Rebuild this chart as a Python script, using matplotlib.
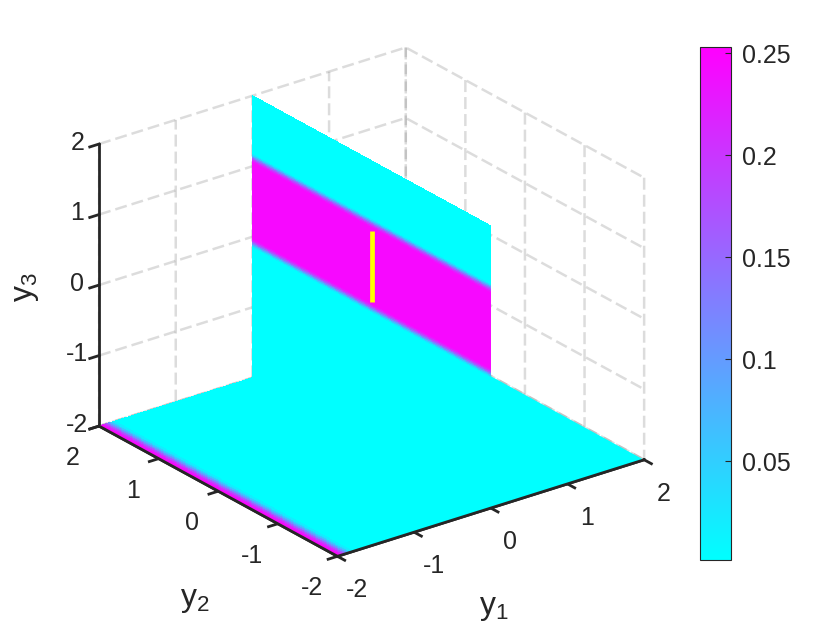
import numpy as np
import matplotlib
matplotlib.use("Agg")
import matplotlib.pyplot as plt
from matplotlib.cm import ScalarMappable
from matplotlib.colors import Normalize

plt.rcParams['font.family'] = ['Liberation Sans', 'DejaVu Sans']
plt.rcParams['axes.unicode_minus'] = False

# values
ticks = [-2, -1, 0, 1, 2]
cbar_ticks = [0.05, 0.1, 0.15, 0.2, 0.25]
cbar_labels = ['0.05', '0.1', '0.15', '0.2', '0.25']
vmin, vmax = 0.0015, 0.253

# wall at y1 = 0, colour only changes with y3
wall_y3 = [-2, -0.14, -0.12, -0.10, -0.08, -0.06, -0.04, -0.02, 0.0, 0.5, 1.05, 1.07, 1.09, 1.11, 1.13, 1.15, 1.17, 1.19, 2]
wall_val = [0.002, 0.02, 0.06, 0.11, 0.16, 0.20, 0.23, 0.245, 0.245, 0.245, 0.245, 0.23, 0.20, 0.16, 0.11, 0.06, 0.02, 0.002]
wall_y2 = [-2, 2]

# floor at y3 = -2, colour only changes with y1
floor_y1 = [-2, -1.96, -1.93, -1.90, -1.87, -1.84, -1.80, 0]
floor_val = [0.25, 0.22, 0.17, 0.11, 0.06, 0.02, 0.002]
floor_y2 = [-2, 2]
floor_back_y1 = [0, 2]
floor_back_val = [0.002]

# yellow line
line_y1 = [0, 0]
line_y2 = [0, 0]
line_y3 = [0, 1]

ink = '#262626'
norm = Normalize(vmin, vmax)
cmap = plt.get_cmap('cool')

fig = plt.figure(figsize=(8.4, 6.3), dpi=100)
ax = fig.add_axes([(363.5 - 300) / 840, (630 - 310 - 300) / 630, 600 / 840, 600 / 630], projection='3d')
ax.set_proj_type('ortho')
ax.view_init(elev=24.5, azim=-127.2)
ax.set_box_aspect((1, 1.024, 0.805), zoom=1.023)
ax.computed_zorder = False
ax.set_xlim(-2, 2, view_margin=0)
ax.set_ylim(-2, 2, view_margin=0)
ax.set_zlim(-2, 2, view_margin=0)

# floor behind the wall
Xb, Yb = np.meshgrid(floor_back_y1, floor_y2)
ax.plot_surface(Xb, Yb, np.full(Xb.shape, -2.0), rstride=1, cstride=1, shade=False,
                facecolors=cmap(norm(np.array([floor_back_val]))), linewidth=0, antialiased=False, zorder=1)

# wall
Yw, Zw = np.meshgrid(wall_y2, wall_y3)
ax.plot_surface(np.zeros(Yw.shape), Yw, Zw, rstride=1, cstride=1, shade=False,
                facecolors=cmap(norm(np.array(wall_val)[:, None])), linewidth=0, antialiased=False, zorder=2)

# floor in front
Xf, Yf = np.meshgrid(floor_y1, floor_y2)
ax.plot_surface(Xf, Yf, np.full(Xf.shape, -2.0), rstride=1, cstride=1, shade=False,
                facecolors=cmap(norm(np.array([floor_val]))), linewidth=0, antialiased=False, zorder=3)

ax.plot(line_y1, line_y2, line_y3, color='#ffff00', lw=3.4, solid_capstyle='butt', zorder=4)

# axis lines get covered by the floor, draw them again on top
ax.plot([-2, 2], [-2, -2], [-2, -2], color=ink, lw=2, zorder=5)
ax.plot([-2, -2], [-2, 2], [-2, -2], color=ink, lw=2, zorder=5)

ax.set_xticks(ticks)
ax.set_yticks(ticks)
ax.set_zticks(ticks)
ax.tick_params(labelsize=18, labelcolor=ink, colors=ink)
ax.tick_params(axis='x', pad=10.5)
ax.tick_params(axis='y', pad=11)
ax.tick_params(axis='z', pad=1)
for a in (ax.xaxis, ax.yaxis, ax.zaxis):
    a.set_pane_color((1, 1, 1, 0))
    a._axinfo['grid'].update(color=(0.5, 0.5, 0.5, 0.27), linewidth=1.8, linestyle=(0, (4.8, 2)))
    a._axinfo['axisline']['color'] = ink
    a._axinfo['axisline']['linewidth'] = 2
    a._axinfo['tick']['color'] = ink
    a._axinfo['tick']['linewidth'] = {True: 2, False: 2}
    a._axinfo['tick']['inward_factor'] = 0.38
    a._axinfo['tick']['outward_factor'] = 0
    a.line.set_color(ink)
    a.line.set_linewidth(2)
    a.pane.set_edgecolor((1, 1, 1, 0))
for a in (ax.xaxis, ax.yaxis, ax.zaxis):
    for t in a.get_major_ticks():
        t.label1.set_va('center')

fig.text(195 / 840, 1 - 600 / 630, r'y$_{\mathregular{2}}$', fontsize=23, color=ink, ha='center', va='center')
fig.text(494 / 840, 1 - 608 / 630, r'y$_{\mathregular{1}}$', fontsize=23, color=ink, ha='center', va='center')
fig.text(26 / 840, 1 - 287 / 630, r'y$_{\mathregular{3}}$', fontsize=23, color=ink, ha='center', va='center', rotation=90)

cax = fig.add_axes([700 / 840, 1 - 560 / 630, 31 / 840, 513 / 630])
cb = fig.colorbar(ScalarMappable(norm=norm, cmap=cmap), cax=cax, ticks=cbar_ticks)
cb.ax.set_yticklabels(cbar_labels)
cb.ax.tick_params(labelsize=18, labelcolor=ink, length=4, width=0.8, direction='in', color=ink, pad=8)
cb.outline.set_edgecolor(ink)
cb.outline.set_linewidth(0.8)

fig.savefig('out.png', dpi=100)
